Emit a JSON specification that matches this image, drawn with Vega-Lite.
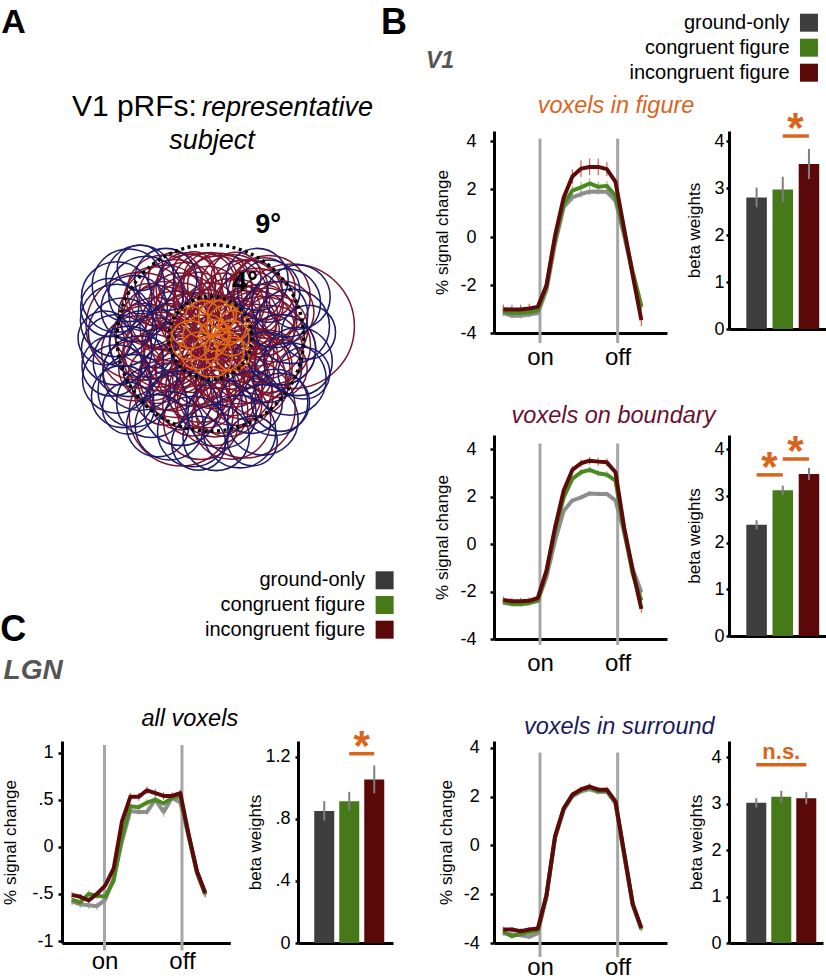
{
"$schema":"https://vega.github.io/schema/vega-lite/v6.json",
"background":"white",
"padding":{"left":0,"top":5,"right":0,"bottom":0},
"bounds":"flush",
"align":"each",
"columns":4,
"spacing":{"row":102,"column":62},
"config":{"font":"Liberation Sans","view":{"stroke":null},
"axis":{"domainColor":"#000000","domainWidth":3,"tickColor":"#000000","tickWidth":2.5,"tickSize":4,"labelColor":"#000000","titleColor":"#000000","labelFontSize":18,"titleFontSize":17,"titleFontWeight":"normal","grid":false,"labelOverlap":false,"labelFont":"Liberation Sans","titleFont":"Liberation Sans"}},
"datasets":{
"conds":[{"c":"g","name":"ground-only","k":1},{"c":"c","name":"congruent figure","k":2},{"c":"i","name":"incongruent figure","k":3}],
"beta":[
{"p":"fig","c":"g","b":2.8,"se":0.21},{"p":"fig","c":"c","b":2.97,"se":0.27},{"p":"fig","c":"i","b":3.51,"se":0.32},
{"p":"bnd","c":"g","b":2.38,"se":0.1},{"p":"bnd","c":"c","b":3.12,"se":0.1},{"p":"bnd","c":"i","b":3.47,"se":0.13},
{"p":"sur","c":"g","b":3.02,"se":0.1},{"p":"sur","c":"c","b":3.15,"se":0.13},{"p":"sur","c":"i","b":3.12,"se":0.13},
{"p":"lgn","c":"g","b":0.852,"se":0.063},{"p":"lgn","c":"c","b":0.915,"se":0.06},{"p":"lgn","c":"i","b":1.055,"se":0.09}],
"fig":[
{"c":"g","t":0,"v":-3.17,"e":0.12},{"c":"g","t":1,"v":-3.28,"e":0.12},{"c":"g","t":2,"v":-3.28,"e":0.12},{"c":"g","t":3,"v":-3.23,"e":0.12},{"c":"g","t":4,"v":-3.17,"e":0.1},{"c":"g","t":5,"v":-2.22,"e":0.08},{"c":"g","t":6,"v":-0.28,"e":0.08},{"c":"g","t":7,"v":1.24,"e":0.1},{"c":"g","t":8,"v":1.65,"e":0.15},{"c":"g","t":9,"v":1.79,"e":0.15},{"c":"g","t":10,"v":1.89,"e":0.15},{"c":"g","t":11,"v":1.9,"e":0.15},{"c":"g","t":12,"v":1.89,"e":0.15},{"c":"g","t":13,"v":1.51,"e":0.1},{"c":"g","t":14,"v":0.06,"e":0.08},{"c":"g","t":15,"v":-1.53,"e":0.08},{"c":"g","t":16,"v":-2.95,"e":0.1},
{"c":"c","t":0,"v":-3.12,"e":0.15},{"c":"c","t":1,"v":-3.17,"e":0.15},{"c":"c","t":2,"v":-3.17,"e":0.15},{"c":"c","t":3,"v":-3.14,"e":0.15},{"c":"c","t":4,"v":-3.05,"e":0.1},{"c":"c","t":5,"v":-2.08,"e":0.08},{"c":"c","t":6,"v":-0.08,"e":0.08},{"c":"c","t":7,"v":1.37,"e":0.12},{"c":"c","t":8,"v":1.93,"e":0.22},{"c":"c","t":9,"v":2.07,"e":0.22},{"c":"c","t":10,"v":2.23,"e":0.22},{"c":"c","t":11,"v":2.09,"e":0.22},{"c":"c","t":12,"v":2.13,"e":0.2},{"c":"c","t":13,"v":1.72,"e":0.12},{"c":"c","t":14,"v":0.2,"e":0.08},{"c":"c","t":15,"v":-1.46,"e":0.1},{"c":"c","t":16,"v":-2.88,"e":0.15},
{"c":"i","t":0,"v":-3.01,"e":0.2},{"c":"i","t":1,"v":-3.02,"e":0.2},{"c":"i","t":2,"v":-3.02,"e":0.2},{"c":"i","t":3,"v":-2.98,"e":0.2},{"c":"i","t":4,"v":-2.91,"e":0.12},{"c":"i","t":5,"v":-2.01,"e":0.08},{"c":"i","t":6,"v":0.06,"e":0.1},{"c":"i","t":7,"v":1.65,"e":0.15},{"c":"i","t":8,"v":2.52,"e":0.3},{"c":"i","t":9,"v":2.85,"e":0.35},{"c":"i","t":10,"v":2.92,"e":0.35},{"c":"i","t":11,"v":2.92,"e":0.35},{"c":"i","t":12,"v":2.83,"e":0.3},{"c":"i","t":13,"v":2.3,"e":0.15},{"c":"i","t":14,"v":0.34,"e":0.1},{"c":"i","t":15,"v":-1.6,"e":0.12},{"c":"i","t":16,"v":-3.46,"e":0.25}],
"bnd":[
{"c":"g","t":0,"v":-2.41,"e":0.08},{"c":"g","t":1,"v":-2.49,"e":0.08},{"c":"g","t":2,"v":-2.49,"e":0.08},{"c":"g","t":3,"v":-2.45,"e":0.08},{"c":"g","t":4,"v":-2.38,"e":0.06},{"c":"g","t":5,"v":-1.4,"e":0.06},{"c":"g","t":6,"v":0.15,"e":0.06},{"c":"g","t":7,"v":1.41,"e":0.08},{"c":"g","t":8,"v":1.84,"e":0.1},{"c":"g","t":9,"v":1.97,"e":0.1},{"c":"g","t":10,"v":2.14,"e":0.1},{"c":"g","t":11,"v":2.12,"e":0.1},{"c":"g","t":12,"v":2.12,"e":0.1},{"c":"g","t":13,"v":1.84,"e":0.08},{"c":"g","t":14,"v":0.5,"e":0.06},{"c":"g","t":15,"v":-1.05,"e":0.06},{"c":"g","t":16,"v":-2.03,"e":0.08},
{"c":"c","t":0,"v":-2.46,"e":0.1},{"c":"c","t":1,"v":-2.53,"e":0.1},{"c":"c","t":2,"v":-2.53,"e":0.1},{"c":"c","t":3,"v":-2.49,"e":0.1},{"c":"c","t":4,"v":-2.39,"e":0.08},{"c":"c","t":5,"v":-1.19,"e":0.06},{"c":"c","t":6,"v":0.57,"e":0.06},{"c":"c","t":7,"v":1.97,"e":0.1},{"c":"c","t":8,"v":2.75,"e":0.14},{"c":"c","t":9,"v":3.03,"e":0.14},{"c":"c","t":10,"v":3.13,"e":0.14},{"c":"c","t":11,"v":2.99,"e":0.14},{"c":"c","t":12,"v":2.93,"e":0.14},{"c":"c","t":13,"v":2.68,"e":0.1},{"c":"c","t":14,"v":0.57,"e":0.06},{"c":"c","t":15,"v":-1.26,"e":0.08},{"c":"c","t":16,"v":-2.38,"e":0.1},
{"c":"i","t":0,"v":-2.35,"e":0.14},{"c":"i","t":1,"v":-2.41,"e":0.14},{"c":"i","t":2,"v":-2.41,"e":0.14},{"c":"i","t":3,"v":-2.39,"e":0.14},{"c":"i","t":4,"v":-2.27,"e":0.1},{"c":"i","t":5,"v":-1.12,"e":0.08},{"c":"i","t":6,"v":0.71,"e":0.08},{"c":"i","t":7,"v":2.26,"e":0.12},{"c":"i","t":8,"v":3.13,"e":0.16},{"c":"i","t":9,"v":3.41,"e":0.16},{"c":"i","t":10,"v":3.52,"e":0.16},{"c":"i","t":11,"v":3.48,"e":0.16},{"c":"i","t":12,"v":3.45,"e":0.16},{"c":"i","t":13,"v":3.03,"e":0.12},{"c":"i","t":14,"v":0.71,"e":0.08},{"c":"i","t":15,"v":-1.12,"e":0.1},{"c":"i","t":16,"v":-2.73,"e":0.16}],
"sur":[
{"c":"g","t":0,"v":-3.6,"e":0.1},{"c":"g","t":1,"v":-3.65,"e":0.1},{"c":"g","t":2,"v":-3.68,"e":0.1},{"c":"g","t":3,"v":-3.75,"e":0.1},{"c":"g","t":4,"v":-3.6,"e":0.08},{"c":"g","t":5,"v":-2.1,"e":0.06},{"c":"g","t":6,"v":0.3,"e":0.06},{"c":"g","t":7,"v":1.45,"e":0.08},{"c":"g","t":8,"v":2.0,"e":0.1},{"c":"g","t":9,"v":2.2,"e":0.1},{"c":"g","t":10,"v":2.3,"e":0.1},{"c":"g","t":11,"v":2.18,"e":0.1},{"c":"g","t":12,"v":2.2,"e":0.1},{"c":"g","t":13,"v":1.72,"e":0.08},{"c":"g","t":14,"v":-0.4,"e":0.06},{"c":"g","t":15,"v":-2.46,"e":0.06},{"c":"g","t":16,"v":-3.45,"e":0.08},
{"c":"c","t":0,"v":-3.55,"e":0.12},{"c":"c","t":1,"v":-3.72,"e":0.12},{"c":"c","t":2,"v":-3.62,"e":0.12},{"c":"c","t":3,"v":-3.55,"e":0.12},{"c":"c","t":4,"v":-3.48,"e":0.08},{"c":"c","t":5,"v":-2.05,"e":0.06},{"c":"c","t":6,"v":0.35,"e":0.06},{"c":"c","t":7,"v":1.5,"e":0.08},{"c":"c","t":8,"v":2.05,"e":0.12},{"c":"c","t":9,"v":2.27,"e":0.12},{"c":"c","t":10,"v":2.36,"e":0.12},{"c":"c","t":11,"v":2.22,"e":0.12},{"c":"c","t":12,"v":2.24,"e":0.12},{"c":"c","t":13,"v":1.75,"e":0.08},{"c":"c","t":14,"v":-0.35,"e":0.06},{"c":"c","t":15,"v":-2.42,"e":0.06},{"c":"c","t":16,"v":-3.42,"e":0.1},
{"c":"i","t":0,"v":-3.45,"e":0.12},{"c":"i","t":1,"v":-3.45,"e":0.12},{"c":"i","t":2,"v":-3.52,"e":0.12},{"c":"i","t":3,"v":-3.45,"e":0.12},{"c":"i","t":4,"v":-3.41,"e":0.08},{"c":"i","t":5,"v":-2.05,"e":0.06},{"c":"i","t":6,"v":0.38,"e":0.06},{"c":"i","t":7,"v":1.52,"e":0.08},{"c":"i","t":8,"v":2.07,"e":0.12},{"c":"i","t":9,"v":2.29,"e":0.12},{"c":"i","t":10,"v":2.41,"e":0.12},{"c":"i","t":11,"v":2.28,"e":0.12},{"c":"i","t":12,"v":2.28,"e":0.12},{"c":"i","t":13,"v":1.8,"e":0.08},{"c":"i","t":14,"v":-0.3,"e":0.06},{"c":"i","t":15,"v":-2.4,"e":0.06},{"c":"i","t":16,"v":-3.38,"e":0.1}],
"lgn":[
{"c":"g","t":0,"v":-0.58,"e":0.04},{"c":"g","t":1,"v":-0.61,"e":0.04},{"c":"g","t":2,"v":-0.62,"e":0.04},{"c":"g","t":3,"v":-0.63,"e":0.04},{"c":"g","t":4,"v":-0.56,"e":0.03},{"c":"g","t":5,"v":-0.33,"e":0.03},{"c":"g","t":6,"v":0.06,"e":0.03},{"c":"g","t":7,"v":0.38,"e":0.03},{"c":"g","t":8,"v":0.37,"e":0.03},{"c":"g","t":9,"v":0.37,"e":0.03},{"c":"g","t":10,"v":0.5,"e":0.03},{"c":"g","t":11,"v":0.37,"e":0.05},{"c":"g","t":12,"v":0.52,"e":0.03},{"c":"g","t":13,"v":0.47,"e":0.03},{"c":"g","t":14,"v":0.11,"e":0.03},{"c":"g","t":15,"v":-0.28,"e":0.03},{"c":"g","t":16,"v":-0.51,"e":0.03},
{"c":"c","t":0,"v":-0.56,"e":0.04},{"c":"c","t":1,"v":-0.59,"e":0.04},{"c":"c","t":2,"v":-0.5,"e":0.04},{"c":"c","t":3,"v":-0.52,"e":0.04},{"c":"c","t":4,"v":-0.53,"e":0.03},{"c":"c","t":5,"v":-0.36,"e":0.03},{"c":"c","t":6,"v":0.1,"e":0.03},{"c":"c","t":7,"v":0.43,"e":0.03},{"c":"c","t":8,"v":0.42,"e":0.03},{"c":"c","t":9,"v":0.47,"e":0.04},{"c":"c","t":10,"v":0.5,"e":0.03},{"c":"c","t":11,"v":0.46,"e":0.03},{"c":"c","t":12,"v":0.52,"e":0.03},{"c":"c","t":13,"v":0.54,"e":0.03},{"c":"c","t":14,"v":0.12,"e":0.03},{"c":"c","t":15,"v":-0.27,"e":0.03},{"c":"c","t":16,"v":-0.5,"e":0.03},
{"c":"i","t":0,"v":-0.51,"e":0.03},{"c":"i","t":1,"v":-0.53,"e":0.03},{"c":"i","t":2,"v":-0.57,"e":0.03},{"c":"i","t":3,"v":-0.5,"e":0.03},{"c":"i","t":4,"v":-0.41,"e":0.03},{"c":"i","t":5,"v":-0.23,"e":0.03},{"c":"i","t":6,"v":0.27,"e":0.04},{"c":"i","t":7,"v":0.53,"e":0.04},{"c":"i","t":8,"v":0.53,"e":0.04},{"c":"i","t":9,"v":0.6,"e":0.04},{"c":"i","t":10,"v":0.57,"e":0.04},{"c":"i","t":11,"v":0.54,"e":0.04},{"c":"i","t":12,"v":0.54,"e":0.04},{"c":"i","t":13,"v":0.57,"e":0.04},{"c":"i","t":14,"v":0.13,"e":0.03},{"c":"i","t":15,"v":-0.26,"e":0.03},{"c":"i","t":16,"v":-0.49,"e":0.04}],
"prf":[
{"g":"b","x":4.5,"y":0.0,"r":4.0},{"g":"b","x":4.3,"y":1.5,"r":3.5},{"g":"b","x":3.9,"y":2.5,"r":3.9},{"g":"b","x":3.0,"y":3.5,"r":3.6},{"g":"b","x":2.0,"y":4.2,"r":3.3},{"g":"b","x":0.8,"y":4.5,"r":3.1},{"g":"b","x":-0.5,"y":4.6,"r":3.0},{"g":"b","x":-1.8,"y":4.3,"r":3.2},{"g":"b","x":-3.0,"y":3.6,"r":3.5},{"g":"b","x":-3.9,"y":2.6,"r":4.1},{"g":"b","x":-4.4,"y":1.3,"r":3.6},{"g":"b","x":-4.6,"y":0.0,"r":3.9},{"g":"b","x":-4.4,"y":-1.4,"r":3.5},{"g":"b","x":-3.9,"y":-2.6,"r":4.0},{"g":"b","x":-3.0,"y":-3.6,"r":3.6},{"g":"b","x":-1.8,"y":-4.3,"r":3.9},{"g":"b","x":-0.5,"y":-4.6,"r":3.5},{"g":"b","x":0.8,"y":-4.5,"r":4.1},{"g":"b","x":2.0,"y":-4.2,"r":3.7},{"g":"b","x":3.0,"y":-3.5,"r":3.9},{"g":"b","x":3.9,"y":-2.5,"r":3.5},{"g":"b","x":4.4,"y":-1.3,"r":4.0},
{"g":"b","x":5.5,"y":0.8,"r":3.2},{"g":"b","x":5.0,"y":-2.0,"r":3.0},{"g":"b","x":3.5,"y":4.0,"r":3.0},{"g":"b","x":-2.0,"y":4.8,"r":2.8},{"g":"b","x":-5.2,"y":2.0,"r":3.0},{"g":"b","x":-5.0,"y":-2.5,"r":3.2},{"g":"b","x":-2.5,"y":-5.2,"r":3.0},{"g":"b","x":1.5,"y":-5.5,"r":3.3},{"g":"b","x":0.0,"y":5.0,"r":2.6},{"g":"b","x":4.0,"y":-4.0,"r":3.0},
{"g":"b","x":7.0,"y":1.0,"r":6.0},{"g":"b","x":-2.5,"y":-6.5,"r":5.0},{"g":"b","x":-6.0,"y":1.0,"r":5.2},{"g":"b","x":3.0,"y":-6.0,"r":4.8},{"g":"b","x":1.0,"y":3.0,"r":4.6},{"g":"b","x":-1.0,"y":-1.0,"r":5.5},{"g":"b","x":5.0,"y":3.5,"r":4.0},{"g":"b","x":-4.0,"y":4.0,"r":3.5},
{"g":"b","x":2.0,"y":1.0,"r":2.8},{"g":"b","x":-2.0,"y":1.5,"r":2.6},{"g":"b","x":1.5,"y":-2.0,"r":2.7},{"g":"b","x":-1.5,"y":-2.0,"r":3.0},{"g":"b","x":0.0,"y":2.5,"r":2.5},{"g":"b","x":2.5,"y":-0.5,"r":3.0},{"g":"b","x":-2.5,"y":-0.5,"r":2.9},{"g":"b","x":0.5,"y":-2.8,"r":2.6},
{"g":"b","x":1.0,"y":0.5,"r":3.5},{"g":"b","x":-0.5,"y":0.8,"r":3.8},{"g":"b","x":0.3,"y":-0.6,"r":4.2},{"g":"b","x":3.2,"y":1.8,"r":2.9},{"g":"b","x":-3.2,"y":-1.6,"r":2.8},{"g":"b","x":2.6,"y":-2.8,"r":3.2},{"g":"b","x":-2.6,"y":2.9,"r":3.0},{"g":"b","x":6.0,"y":-1.0,"r":3.4},{"g":"b","x":-6.2,"y":-1.2,"r":3.5},{"g":"b","x":1.8,"y":-7.0,"r":3.8},{"g":"b","x":-0.8,"y":-7.2,"r":3.6},
{"g":"b","x":3.6,"y":0.6,"r":2.6},{"g":"b","x":3.3,"y":-1.2,"r":2.4},{"g":"b","x":2.4,"y":2.8,"r":2.5},{"g":"b","x":1.2,"y":3.6,"r":2.2},{"g":"b","x":-1.0,"y":3.5,"r":2.4},{"g":"b","x":-2.4,"y":2.4,"r":2.6},{"g":"b","x":-3.5,"y":0.9,"r":2.3},{"g":"b","x":-3.4,"y":-0.9,"r":2.6},{"g":"b","x":-2.6,"y":-2.6,"r":2.4},{"g":"b","x":-1.0,"y":-3.5,"r":2.5},{"g":"b","x":0.8,"y":-3.5,"r":2.3},{"g":"b","x":2.4,"y":-2.2,"r":2.6},{"g":"b","x":4.8,"y":1.8,"r":2.8},{"g":"b","x":-4.6,"y":-3.2,"r":2.7},{"g":"b","x":-1.5,"y":-5.8,"r":2.9},{"g":"b","x":2.2,"y":5.2,"r":2.4},{"g":"b","x":-5.6,"y":0.4,"r":2.9},{"g":"b","x":5.8,"y":-2.6,"r":2.8},{"g":"b","x":0.2,"y":-6.2,"r":3.4},{"g":"b","x":-3.0,"y":5.0,"r":2.6},
{"g":"b","x":2.8,"y":1.2,"r":3.2},{"g":"b","x":1.6,"y":2.4,"r":3.0},{"g":"b","x":-0.2,"y":3.2,"r":3.3},{"g":"b","x":-1.9,"y":2.6,"r":3.1},{"g":"b","x":-3.0,"y":1.0,"r":3.4},{"g":"b","x":-2.8,"y":-1.4,"r":3.2},{"g":"b","x":-1.7,"y":-2.9,"r":3.3},{"g":"b","x":0.2,"y":-3.3,"r":3.1},{"g":"b","x":1.9,"y":-2.9,"r":3.4},{"g":"b","x":3.1,"y":-1.6,"r":3.0},{"g":"b","x":4.0,"y":0.8,"r":3.6},{"g":"b","x":3.4,"y":2.9,"r":3.2},{"g":"b","x":0.6,"y":4.0,"r":3.4},{"g":"b","x":-2.2,"y":3.8,"r":3.0},{"g":"b","x":-4.0,"y":1.9,"r":3.3},{"g":"b","x":-4.2,"y":-1.0,"r":3.6},{"g":"b","x":-3.2,"y":-3.4,"r":3.2},{"g":"b","x":-0.8,"y":-4.2,"r":3.4},{"g":"b","x":1.8,"y":-4.0,"r":3.0},{"g":"b","x":3.8,"y":-2.6,"r":3.4},{"g":"b","x":5.2,"y":-0.6,"r":3.8},{"g":"b","x":-5.4,"y":-0.4,"r":3.6},{"g":"b","x":0.4,"y":-5.0,"r":3.9},{"g":"b","x":-1.4,"y":5.6,"r":2.0},{"g":"b","x":4.6,"y":4.2,"r":3.0},{"g":"b","x":-4.8,"y":3.6,"r":2.8},{"g":"b","x":6.2,"y":2.2,"r":3.0},{"g":"b","x":-6.6,"y":-2.8,"r":2.9},{"g":"b","x":2.8,"y":-5.0,"r":2.9},{"g":"b","x":-3.8,"y":-4.8,"r":3.0},
{"g":"s","x":-8.0,"y":3.5,"r":3.4},{"g":"s","x":-7.0,"y":4.5,"r":3.5},{"g":"s","x":-6.0,"y":5.0,"r":3.3},{"g":"s","x":-8.0,"y":1.5,"r":3.5},{"g":"s","x":-7.5,"y":0.5,"r":3.3},{"g":"s","x":-8.0,"y":-1.0,"r":3.4},{"g":"s","x":-7.0,"y":-2.0,"r":3.4},{"g":"s","x":-6.5,"y":2.5,"r":3.2},{"g":"s","x":-5.5,"y":3.8,"r":3.6},{"g":"s","x":-8.0,"y":-3.5,"r":3.3},{"g":"s","x":-6.5,"y":-4.5,"r":3.5},{"g":"s","x":-5.0,"y":-5.5,"r":3.4},{"g":"s","x":-7.5,"y":-5.0,"r":3.0},{"g":"s","x":-5.8,"y":-0.5,"r":3.2},{"g":"s","x":-6.0,"y":-3.0,"r":3.6},
{"g":"s","x":6.5,"y":3.0,"r":3.3},{"g":"s","x":7.0,"y":1.0,"r":3.6},{"g":"s","x":6.0,"y":-1.0,"r":3.4},{"g":"s","x":5.5,"y":2.0,"r":3.2},{"g":"s","x":7.5,"y":-2.0,"r":3.3},{"g":"s","x":5.0,"y":4.0,"r":3.0},{"g":"s","x":6.8,"y":-3.5,"r":3.5},{"g":"s","x":4.8,"y":-2.5,"r":3.4},{"g":"s","x":7.5,"y":3.5,"r":3.1},
{"g":"s","x":-3.5,"y":-7.5,"r":3.3},{"g":"s","x":-1.5,"y":-8.0,"r":3.4},{"g":"s","x":0.5,"y":-8.5,"r":3.2},{"g":"s","x":2.5,"y":-8.0,"r":3.5},{"g":"s","x":4.5,"y":-7.0,"r":3.4},{"g":"s","x":3.5,"y":-5.5,"r":3.0},{"g":"s","x":-2.5,"y":-6.0,"r":3.6},{"g":"s","x":1.0,"y":-6.5,"r":3.3},{"g":"s","x":5.5,"y":-5.5,"r":3.2},{"g":"s","x":-4.5,"y":-7.5,"r":3.0},{"g":"s","x":-3.8,"y":5.0,"r":3.0},{"g":"s","x":4.0,"y":5.0,"r":3.0},
{"g":"s","x":-9.0,"y":0.0,"r":2.6},{"g":"s","x":-8.6,"y":2.6,"r":2.8},{"g":"s","x":-8.4,"y":-2.4,"r":2.9},{"g":"s","x":-7.0,"y":-6.0,"r":2.5},{"g":"s","x":-6.0,"y":6.0,"r":2.2},{"g":"s","x":8.4,"y":0.5,"r":2.6},{"g":"s","x":8.0,"y":-3.0,"r":2.5},{"g":"s","x":6.0,"y":-5.5,"r":2.8},{"g":"s","x":-1.0,"y":-9.0,"r":2.6},{"g":"s","x":3.6,"y":-8.8,"r":2.4},
{"g":"f","x":-1.6,"y":0.9,"r":2.0},{"g":"f","x":-0.6,"y":1.6,"r":1.8},{"g":"f","x":0.5,"y":1.7,"r":1.7},{"g":"f","x":1.4,"y":1.1,"r":1.9},{"g":"f","x":1.8,"y":0.0,"r":1.7},{"g":"f","x":1.2,"y":-1.1,"r":1.9},{"g":"f","x":0.1,"y":-1.6,"r":2.0},{"g":"f","x":-1.0,"y":-1.1,"r":1.8},{"g":"f","x":-1.7,"y":-0.2,"r":1.9},{"g":"f","x":0.4,"y":0.2,"r":1.5},{"g":"f","x":1.9,"y":-1.4,"r":1.6},{"g":"f","x":-0.4,"y":0.1,"r":2.2},{"g":"f","x":1.0,"y":2.0,"r":1.4},{"g":"f","x":2.0,"y":1.0,"r":1.5}]
},
"resolve":{"scale":{"color":"independent","size":"independent","strokeWidth":"independent"}},
"concat":[
 {"width":174,"height":202,
  "resolve":{"scale":{"y":"independent","color":"independent"}},
  "layer":[
   {"layer":[
    {"data":{"name":"prf"},"mark":{"type":"point","shape":"circle","filled":false,"opacity":1},
     "encoding":{"x":{"field":"x","type":"quantitative","scale":{"domain":[-12.675,2.197],"nice":false,"zero":false},"axis":null},
      "y":{"field":"y","type":"quantitative","scale":{"domain":[0.427,17.692],"nice":false,"zero":false},"axis":null},
      "size":{"field":"r","type":"quantitative","scale":{"type":"pow","exponent":2,"domain":[0,10],"range":[0,43005]},"legend":null},
      "strokeWidth":{"field":"g","type":"nominal","scale":{"domain":["b","s","f"],"range":[1.5,1.6,2.4]},"legend":null},
      "color":{"field":"g","type":"nominal","scale":{"domain":["b","s","f"],"range":["#7a1530","#1e1b6b","#e06a12"]},"legend":null}}},
    {"data":{"values":[{"r":9},{"r":4}]},"mark":{"type":"point","shape":"circle","filled":false,"color":"#000000","strokeWidth":3.5,"strokeDash":[3,3.5],"opacity":1},
     "encoding":{"x":{"datum":0,"type":"quantitative","axis":null},"y":{"datum":0,"type":"quantitative","axis":null},
      "size":{"field":"r","type":"quantitative","scale":{"type":"pow","exponent":2,"domain":[0,10],"range":[0,43005]},"legend":null}}},
    {"data":{"values":[{}]},"mark":{"type":"text","text":"9°","fontSize":27,"fontWeight":"bold","align":"left","baseline":"alphabetic"},"encoding":{"x":{"datum":3.85,"type":"quantitative","axis":null},"y":{"datum":8.97,"type":"quantitative","axis":null}}},
    {"data":{"values":[{}]},"mark":{"type":"text","text":"4°","fontSize":27,"fontWeight":"bold","align":"left","baseline":"alphabetic"},"encoding":{"x":{"datum":1.85,"type":"quantitative","axis":null},"y":{"datum":4.02,"type":"quantitative","axis":null}}},
    {"data":{"values":[{}]},"mark":{"type":"text","text":"A","fontSize":34,"fontWeight":"bold","align":"left","baseline":"alphabetic"},"encoding":{"x":{"datum":-17.86,"type":"quantitative","axis":null},"y":{"datum":26.09,"type":"quantitative","axis":null}}},
    {"data":{"values":[{}]},"mark":{"type":"text","text":"V1 pRFs:","fontSize":30,"align":"right","baseline":"alphabetic"},"encoding":{"x":{"datum":-1.14,"type":"quantitative","axis":null},"y":{"datum":18.97,"type":"quantitative","axis":null}}},
    {"data":{"values":[{}]},"mark":{"type":"text","text":"representative","fontSize":27,"fontStyle":"italic","align":"left","baseline":"alphabetic"},"encoding":{"x":{"datum":-0.71,"type":"quantitative","axis":null},"y":{"datum":18.97,"type":"quantitative","axis":null}}},
    {"data":{"values":[{}]},"mark":{"type":"text","text":"subject","fontSize":27,"fontStyle":"italic","align":"center","baseline":"alphabetic"},"encoding":{"x":{"datum":0.15,"type":"quantitative","axis":null},"y":{"datum":16.15,"type":"quantitative","axis":null}}},
    {"data":{"values":[{}]},"mark":{"type":"text","text":"C","fontSize":36,"fontWeight":"bold","align":"left","baseline":"alphabetic"},"encoding":{"x":{"datum":-17.95,"type":"quantitative","axis":null},"y":{"datum":-25.9,"type":"quantitative","axis":null}}},
    {"data":{"values":[{}]},"mark":{"type":"text","text":"LGN","fontSize":28,"fontWeight":"bold","fontStyle":"italic","color":"#555555","align":"left","baseline":"alphabetic"},"encoding":{"x":{"datum":-17.67,"type":"quantitative","axis":null},"y":{"datum":-29.15,"type":"quantitative","axis":null}}}
   ]},
   {"data":{"name":"conds"},"layer":[
    {"mark":{"type":"square","size":324,"opacity":1},
     "encoding":{"x":{"datum":14.9,"type":"quantitative","axis":null},"y":{"field":"k","type":"quantitative","scale":{"domain":[-17.19,-9.012],"reverse":true,"nice":false,"zero":false},"axis":null},
      "color":{"field":"c","type":"nominal","scale":{"domain":["g","c","i"],"range":["#3a3a3a","#467a18","#5a0808"]},"legend":null}}},
    {"mark":{"type":"text","align":"right","baseline":"middle","fontSize":20,"dx":-19.5,"color":"#000000"},
     "encoding":{"x":{"datum":14.9,"type":"quantitative","axis":null},"y":{"field":"k","type":"quantitative","axis":null},"text":{"field":"name"}}}
   ]}
  ]},
 {"width":133.3,"height":10,"data":{"values":[]},"mark":{"type":"point","opacity":0}},
 {"width":173,"height":202,
  "resolve":{"scale":{"color":"independent"}},
  "layer":[
   {"data":{"values":[{"t":4.25},{"t":13.25}]},"mark":{"type":"rule","color":"#a6a6a6","strokeWidth":3},
    "encoding":{"x":{"field":"t","type":"quantitative","title":null,"scale":{"domain":[-1.08,18.97],"nice":false,"zero":false},"axis":{"values":[4.25,13.25],"labelExpr":"datum.value < 8 ? 'on' : 'off'","ticks":false,"tickSize":0,"labelFontSize":24,"labelPadding":12,"title":null}},
     "y":{"datum":4.1,"type":"quantitative","title":"% signal change","scale":{"domain":[-4,4.417],"nice":false,"zero":false},"axis":{"values":[-4,-3,-2,-1,0,1,2,3,4],"labelOverlap":false,"labelExpr":"(datum.value < 0 ? '-' : '') + (datum.value != 0 && abs(datum.value) < 1 ? replace(format(abs(datum.value), '.1f'), '0.', '.') : format(abs(datum.value), '~g'))","title":"% signal change","titlePadding":8,"labelPadding":14}},
     "y2":{"datum":-4.42}}},
   {"data":{"name":"fig"},"mark":{"type":"errorbar","thickness":1.2},
    "encoding":{"x":{"field":"t","type":"quantitative","title":null},"y":{"field":"v","type":"quantitative","title":"% signal change","axis":{"values":[-4,-3,-2,-1,0,1,2,3,4],"labelOverlap":false,"labelExpr":"(datum.value < 0 ? '-' : '') + (datum.value != 0 && abs(datum.value) < 1 ? replace(format(abs(datum.value), '.1f'), '0.', '.') : format(abs(datum.value), '~g'))","title":"% signal change","titlePadding":8,"labelPadding":14}},"yError":{"field":"e"},
     "color":{"field":"c","type":"nominal","scale":{"domain":["g","c","i"],"range":["#b0b0b0","#9cc46e","#de5a5a"]},"legend":null}}},
   {"data":{"name":"fig"},"mark":{"type":"line","strokeWidth":4,"strokeJoin":"round"},
    "encoding":{"x":{"field":"t","type":"quantitative","title":null},"y":{"field":"v","type":"quantitative","title":"% signal change","axis":{"values":[-4,-3,-2,-1,0,1,2,3,4],"labelOverlap":false,"labelExpr":"(datum.value < 0 ? '-' : '') + (datum.value != 0 && abs(datum.value) < 1 ? replace(format(abs(datum.value), '.1f'), '0.', '.') : format(abs(datum.value), '~g'))","title":"% signal change","titlePadding":8,"labelPadding":14}},
     "color":{"field":"c","type":"nominal","scale":{"domain":["g","c","i"],"range":["#8e8e8e","#4b8a22","#5c0a0a"]},"legend":null}}},
   {"data":{"values":[{}]},"mark":{"type":"text","text":"voxels in figure","fontSize":23.5,"fontStyle":"italic","color":"#d9651c","align":"center","baseline":"alphabetic"},"encoding":{"x":{"datum":13.06,"type":"quantitative"},"y":{"datum":5.18,"type":"quantitative","title":"% signal change"}}},
   {"data":{"values":[{}]},"mark":{"type":"text","text":"B","fontSize":36,"fontWeight":"bold","align":"left","baseline":"alphabetic"},"encoding":{"x":{"datum":-14.17,"type":"quantitative"},"y":{"datum":8.446,"type":"quantitative","title":"% signal change"}}},
   {"data":{"values":[{}]},"mark":{"type":"text","text":"V1","fontSize":23,"fontWeight":"bold","fontStyle":"italic","color":"#555555","align":"left","baseline":"alphabetic"},"encoding":{"x":{"datum":-8.96,"type":"quantitative"},"y":{"datum":7.054,"type":"quantitative","title":"% signal change"}}}
  ]},
 {"width":97,"height":198,
  "resolve":{"scale":{"y":"independent"}},
  "layer":[
   {"layer":[
    {"data":{"name":"beta"},"transform":[{"filter":"datum.p == 'fig'"}],"mark":{"type":"bar"},
     "encoding":{"x":{"field":"c","type":"nominal","title":null,"scale":{"domain":["g","c","i"],"paddingInner":0.216,"paddingOuter":0.46,"align":0.719},"axis":{"title":null,"labels":false,"ticks":false}},
      "y":{"field":"b","type":"quantitative","title":"beta weights","scale":{"domain":[0,4.213],"nice":false},"axis":{"values":[0,0.5,1,1.5,2,2.5,3,3.5,4],"labelOverlap":false,"labelExpr":"(datum.value < 0 ? '-' : '') + (datum.value != 0 && abs(datum.value) < 1 ? replace(format(abs(datum.value), '.1f'), '0.', '.') : format(abs(datum.value), '~g'))","title":"beta weights","titlePadding":10,"labelPadding":2,"tickSize":3}},
      "color":{"field":"c","type":"nominal","scale":{"domain":["g","c","i"],"range":["#3e3e3e","#467a18","#5a0808"]},"legend":null}}},
    {"data":{"name":"beta"},"transform":[{"filter":"datum.p == 'fig'"}],"mark":{"type":"errorbar","color":"#7f7f7f","thickness":2},
     "encoding":{"x":{"field":"c","type":"nominal","title":null},"y":{"field":"b","type":"quantitative","title":"beta weights","axis":{"values":[0,0.5,1,1.5,2,2.5,3,3.5,4],"labelOverlap":false,"labelExpr":"(datum.value < 0 ? '-' : '') + (datum.value != 0 && abs(datum.value) < 1 ? replace(format(abs(datum.value), '.1f'), '0.', '.') : format(abs(datum.value), '~g'))","title":"beta weights","titlePadding":10,"labelPadding":2,"tickSize":3}},"yError":{"field":"se"}}},
    {"data":{"values":[{}]},"mark":{"type":"rule","color":"#d9651c","strokeWidth":3.5},"encoding":{"x":{"datum":"c","type":"nominal"},"x2":{"datum":"i"},"y":{"datum":4.106,"type":"quantitative","title":"beta weights"}}},
    {"data":{"values":[{}]},"mark":{"type":"text","text":"*","fontSize":42,"fontWeight":"bold","color":"#d9651c","align":"center","baseline":"alphabetic","dx":12.75,"dy":6},"encoding":{"x":{"datum":"c","type":"nominal"},"y":{"datum":4.106,"type":"quantitative","title":"beta weights"}}}
   ]},
   {"data":{"name":"conds"},"layer":[
    {"mark":{"type":"square","size":324,"opacity":1},
     "encoding":{"x":{"datum":"i","type":"nominal"},"y":{"field":"k","type":"quantitative","scale":{"domain":[5.332,13.252],"reverse":true,"nice":false,"zero":false},"axis":null},
      "color":{"field":"c","type":"nominal","scale":{"domain":["g","c","i"],"range":["#3e3e3e","#467a18","#5a0808"]},"legend":null}}},
    {"mark":{"type":"text","align":"right","baseline":"middle","fontSize":20,"dx":-19.4,"color":"#000000"},
     "encoding":{"x":{"datum":"i","type":"nominal"},"y":{"field":"k","type":"quantitative","axis":null},"text":{"field":"name"}}}
   ]}
  ]},
 {"width":174,"height":10,"data":{"values":[]},"mark":{"type":"point","opacity":0}},
 {"width":133.3,"height":10,"data":{"values":[]},"mark":{"type":"point","opacity":0}},
 {"width":173,"height":204,
  "resolve":{"scale":{"color":"independent"}},
  "layer":[
   {"data":{"values":[{"t":4.25},{"t":13.25}]},"mark":{"type":"rule","color":"#a6a6a6","strokeWidth":3},
    "encoding":{"x":{"field":"t","type":"quantitative","title":null,"scale":{"domain":[-1.08,18.97],"nice":false,"zero":false},"axis":{"values":[4.25,13.25],"labelExpr":"datum.value < 8 ? 'on' : 'off'","ticks":false,"tickSize":0,"labelFontSize":24,"labelPadding":12,"title":null}},
     "y":{"datum":4.24,"type":"quantitative","title":"% signal change","scale":{"domain":[-4,4.603],"nice":false,"zero":false},"axis":{"values":[-4,-3,-2,-1,0,1,2,3,4],"labelOverlap":false,"labelExpr":"(datum.value < 0 ? '-' : '') + (datum.value != 0 && abs(datum.value) < 1 ? replace(format(abs(datum.value), '.1f'), '0.', '.') : format(abs(datum.value), '~g'))","title":"% signal change","titlePadding":8,"labelPadding":14}},
     "y2":{"datum":-4.25}}},
   {"data":{"name":"bnd"},"mark":{"type":"errorbar","thickness":1.2},
    "encoding":{"x":{"field":"t","type":"quantitative","title":null},"y":{"field":"v","type":"quantitative","title":"% signal change","axis":{"values":[-4,-3,-2,-1,0,1,2,3,4],"labelOverlap":false,"labelExpr":"(datum.value < 0 ? '-' : '') + (datum.value != 0 && abs(datum.value) < 1 ? replace(format(abs(datum.value), '.1f'), '0.', '.') : format(abs(datum.value), '~g'))","title":"% signal change","titlePadding":8,"labelPadding":14}},"yError":{"field":"e"},
     "color":{"field":"c","type":"nominal","scale":{"domain":["g","c","i"],"range":["#b0b0b0","#9cc46e","#de5a5a"]},"legend":null}}},
   {"data":{"name":"bnd"},"mark":{"type":"line","strokeWidth":4,"strokeJoin":"round"},
    "encoding":{"x":{"field":"t","type":"quantitative","title":null},"y":{"field":"v","type":"quantitative","title":"% signal change","axis":{"values":[-4,-3,-2,-1,0,1,2,3,4],"labelOverlap":false,"labelExpr":"(datum.value < 0 ? '-' : '') + (datum.value != 0 && abs(datum.value) < 1 ? replace(format(abs(datum.value), '.1f'), '0.', '.') : format(abs(datum.value), '~g'))","title":"% signal change","titlePadding":8,"labelPadding":14}},
     "color":{"field":"c","type":"nominal","scale":{"domain":["g","c","i"],"range":["#8e8e8e","#4b8a22","#5c0a0a"]},"legend":null}}},
   {"data":{"values":[{}]},"mark":{"type":"text","text":"voxels on boundary","fontSize":23.5,"fontStyle":"italic","color":"#6b1030","align":"center","baseline":"alphabetic"},"encoding":{"x":{"datum":12.77,"type":"quantitative"},"y":{"datum":5.122,"type":"quantitative","title":"% signal change"}}}
  ]},
 {"width":97,"height":201,
  "layer":[
   {"data":{"name":"beta"},"transform":[{"filter":"datum.p == 'bnd'"}],"mark":{"type":"bar"},
    "encoding":{"x":{"field":"c","type":"nominal","title":null,"scale":{"domain":["g","c","i"],"paddingInner":0.216,"paddingOuter":0.46,"align":0.719},"axis":{"title":null,"labels":false,"ticks":false}},
     "y":{"field":"b","type":"quantitative","title":"beta weights","scale":{"domain":[0,4.304],"nice":false},"axis":{"values":[0,0.5,1,1.5,2,2.5,3,3.5,4],"labelOverlap":false,"labelExpr":"(datum.value < 0 ? '-' : '') + (datum.value != 0 && abs(datum.value) < 1 ? replace(format(abs(datum.value), '.1f'), '0.', '.') : format(abs(datum.value), '~g'))","title":"beta weights","titlePadding":10,"labelPadding":2,"tickSize":3}},
     "color":{"field":"c","type":"nominal","scale":{"domain":["g","c","i"],"range":["#3e3e3e","#467a18","#5a0808"]},"legend":null}}},
   {"data":{"name":"beta"},"transform":[{"filter":"datum.p == 'bnd'"}],"mark":{"type":"errorbar","color":"#7f7f7f","thickness":2},
    "encoding":{"x":{"field":"c","type":"nominal","title":null},"y":{"field":"b","type":"quantitative","title":"beta weights","axis":{"values":[0,0.5,1,1.5,2,2.5,3,3.5,4],"labelOverlap":false,"labelExpr":"(datum.value < 0 ? '-' : '') + (datum.value != 0 && abs(datum.value) < 1 ? replace(format(abs(datum.value), '.1f'), '0.', '.') : format(abs(datum.value), '~g'))","title":"beta weights","titlePadding":10,"labelPadding":2,"tickSize":3}},"yError":{"field":"se"}}},
   {"data":{"values":[{}]},"mark":{"type":"rule","color":"#d9651c","strokeWidth":3.5},"encoding":{"x":{"datum":"g","type":"nominal"},"x2":{"datum":"c"},"y":{"datum":3.45,"type":"quantitative","title":"beta weights"}}},
   {"data":{"values":[{}]},"mark":{"type":"text","text":"*","fontSize":42,"fontWeight":"bold","color":"#d9651c","align":"center","baseline":"alphabetic","dx":12.75,"dy":6},"encoding":{"x":{"datum":"g","type":"nominal"},"y":{"datum":3.45,"type":"quantitative","title":"beta weights"}}},
   {"data":{"values":[{}]},"mark":{"type":"rule","color":"#d9651c","strokeWidth":3.5},"encoding":{"x":{"datum":"c","type":"nominal"},"x2":{"datum":"i"},"y":{"datum":3.79,"type":"quantitative","title":"beta weights"}}},
   {"data":{"values":[{}]},"mark":{"type":"text","text":"*","fontSize":42,"fontWeight":"bold","color":"#d9651c","align":"center","baseline":"alphabetic","dx":12.75,"dy":6},"encoding":{"x":{"datum":"c","type":"nominal"},"y":{"datum":3.79,"type":"quantitative","title":"beta weights"}}}
  ]},
 {"width":168.3,"height":202,
  "resolve":{"scale":{"color":"independent"}},
  "layer":[
   {"data":{"values":[{"t":3.9},{"t":13.2}]},"mark":{"type":"rule","color":"#a6a6a6","strokeWidth":3},
    "encoding":{"x":{"field":"t","type":"quantitative","title":null,"scale":{"domain":[-1.2,19.0],"nice":false,"zero":false},"axis":{"values":[3.9,13.2],"labelExpr":"datum.value < 8 ? 'on' : 'off'","ticks":false,"tickSize":0,"labelFontSize":24,"labelPadding":6,"title":null}},
     "y":{"datum":1.08,"type":"quantitative","title":"% signal change","scale":{"domain":[-1.021,1.123],"nice":false,"zero":false},"axis":{"values":[-1,-0.5,0,0.5,1],"labelOverlap":false,"labelExpr":"(datum.value < 0 ? '-' : '') + (datum.value != 0 && abs(datum.value) < 1 ? replace(format(abs(datum.value), '.1f'), '0.', '.') : format(abs(datum.value), '~g'))","title":"% signal change","titlePadding":12,"labelPadding":5}},
     "y2":{"datum":-1.1}}},
   {"data":{"name":"lgn"},"mark":{"type":"errorbar","thickness":1.2},
    "encoding":{"x":{"field":"t","type":"quantitative","title":null},"y":{"field":"v","type":"quantitative","title":"% signal change","axis":{"values":[-1,-0.5,0,0.5,1],"labelOverlap":false,"labelExpr":"(datum.value < 0 ? '-' : '') + (datum.value != 0 && abs(datum.value) < 1 ? replace(format(abs(datum.value), '.1f'), '0.', '.') : format(abs(datum.value), '~g'))","title":"% signal change","titlePadding":12,"labelPadding":5}},"yError":{"field":"e"},
     "color":{"field":"c","type":"nominal","scale":{"domain":["g","c","i"],"range":["#b0b0b0","#9cc46e","#de5a5a"]},"legend":null}}},
   {"data":{"name":"lgn"},"mark":{"type":"line","strokeWidth":4,"strokeJoin":"round"},
    "encoding":{"x":{"field":"t","type":"quantitative","title":null},"y":{"field":"v","type":"quantitative","title":"% signal change","axis":{"values":[-1,-0.5,0,0.5,1],"labelOverlap":false,"labelExpr":"(datum.value < 0 ? '-' : '') + (datum.value != 0 && abs(datum.value) < 1 ? replace(format(abs(datum.value), '.1f'), '0.', '.') : format(abs(datum.value), '~g'))","title":"% signal change","titlePadding":12,"labelPadding":5}},
     "color":{"field":"c","type":"nominal","scale":{"domain":["g","c","i"],"range":["#8e8e8e","#4b8a22","#5c0a0a"]},"legend":null}}},
   {"data":{"values":[{}]},"mark":{"type":"text","text":"all voxels","fontSize":23.5,"fontStyle":"italic","color":"#000000","align":"center","baseline":"alphabetic"},"encoding":{"x":{"datum":14.14,"type":"quantitative"},"y":{"datum":1.282,"type":"quantitative","title":"% signal change"}}}
  ]},
 {"width":95,"height":202,
  "layer":[
   {"data":{"name":"beta"},"transform":[{"filter":"datum.p == 'lgn'"}],"mark":{"type":"bar"},
    "encoding":{"x":{"field":"c","type":"nominal","title":null,"scale":{"domain":["g","c","i"],"paddingInner":0.2,"paddingOuter":0.5,"align":0.65},"axis":{"title":null,"labels":false,"ticks":false}},
     "y":{"field":"b","type":"quantitative","title":"beta weights","scale":{"domain":[0,1.303],"nice":false},"axis":{"values":[0,0.2,0.4,0.6,0.8,1,1.2],"labelOverlap":false,"labelExpr":"(datum.value < 0 ? '-' : '') + (datum.value != 0 && abs(datum.value) < 1 ? replace(format(abs(datum.value), '.1f'), '0.', '.') : format(abs(datum.value), '~g'))","title":"beta weights","titlePadding":0,"labelPadding":5,"tickSize":3}},
     "color":{"field":"c","type":"nominal","scale":{"domain":["g","c","i"],"range":["#3e3e3e","#467a18","#5a0808"]},"legend":null}}},
   {"data":{"name":"beta"},"transform":[{"filter":"datum.p == 'lgn'"}],"mark":{"type":"errorbar","color":"#7f7f7f","thickness":2},
    "encoding":{"x":{"field":"c","type":"nominal","title":null},"y":{"field":"b","type":"quantitative","title":"beta weights","axis":{"values":[0,0.2,0.4,0.6,0.8,1,1.2],"labelOverlap":false,"labelExpr":"(datum.value < 0 ? '-' : '') + (datum.value != 0 && abs(datum.value) < 1 ? replace(format(abs(datum.value), '.1f'), '0.', '.') : format(abs(datum.value), '~g'))","title":"beta weights","titlePadding":0,"labelPadding":5,"tickSize":3}},"yError":{"field":"se"}}},
   {"data":{"values":[{}]},"mark":{"type":"rule","color":"#d9651c","strokeWidth":3.5},"encoding":{"x":{"datum":"c","type":"nominal"},"x2":{"datum":"i"},"y":{"datum":1.221,"type":"quantitative","title":"beta weights"}}},
   {"data":{"values":[{}]},"mark":{"type":"text","text":"*","fontSize":42,"fontWeight":"bold","color":"#d9651c","align":"center","baseline":"alphabetic","dx":12.5,"dy":6},"encoding":{"x":{"datum":"c","type":"nominal"},"y":{"datum":1.221,"type":"quantitative","title":"beta weights"}}}
  ]},
 {"width":173,"height":202,
  "resolve":{"scale":{"color":"independent"}},
  "layer":[
   {"data":{"values":[{"t":4.25},{"t":13.25}]},"mark":{"type":"rule","color":"#a6a6a6","strokeWidth":3},
    "encoding":{"x":{"field":"t","type":"quantitative","title":null,"scale":{"domain":[-1.08,18.97],"nice":false,"zero":false},"axis":{"values":[4.25,13.25],"labelExpr":"datum.value < 8 ? 'on' : 'off'","ticks":false,"tickSize":0,"labelFontSize":24,"labelPadding":12,"title":null}},
     "y":{"datum":3.8,"type":"quantitative","title":"% signal change","scale":{"domain":[-4,4.274],"nice":false,"zero":false},"axis":{"values":[-4,-3,-2,-1,0,1,2,3,4],"labelOverlap":false,"labelExpr":"(datum.value < 0 ? '-' : '') + (datum.value != 0 && abs(datum.value) < 1 ? replace(format(abs(datum.value), '.1f'), '0.', '.') : format(abs(datum.value), '~g'))","title":"% signal change","titlePadding":8,"labelPadding":10.7}},
     "y2":{"datum":-4.57}}},
   {"data":{"name":"sur"},"mark":{"type":"errorbar","thickness":1.2},
    "encoding":{"x":{"field":"t","type":"quantitative","title":null},"y":{"field":"v","type":"quantitative","title":"% signal change","axis":{"values":[-4,-3,-2,-1,0,1,2,3,4],"labelOverlap":false,"labelExpr":"(datum.value < 0 ? '-' : '') + (datum.value != 0 && abs(datum.value) < 1 ? replace(format(abs(datum.value), '.1f'), '0.', '.') : format(abs(datum.value), '~g'))","title":"% signal change","titlePadding":8,"labelPadding":10.7}},"yError":{"field":"e"},
     "color":{"field":"c","type":"nominal","scale":{"domain":["g","c","i"],"range":["#b0b0b0","#9cc46e","#de5a5a"]},"legend":null}}},
   {"data":{"name":"sur"},"mark":{"type":"line","strokeWidth":4,"strokeJoin":"round"},
    "encoding":{"x":{"field":"t","type":"quantitative","title":null},"y":{"field":"v","type":"quantitative","title":"% signal change","axis":{"values":[-4,-3,-2,-1,0,1,2,3,4],"labelOverlap":false,"labelExpr":"(datum.value < 0 ? '-' : '') + (datum.value != 0 && abs(datum.value) < 1 ? replace(format(abs(datum.value), '.1f'), '0.', '.') : format(abs(datum.value), '~g'))","title":"% signal change","titlePadding":8,"labelPadding":10.7}},
     "color":{"field":"c","type":"nominal","scale":{"domain":["g","c","i"],"range":["#8e8e8e","#4b8a22","#5c0a0a"]},"legend":null}}},
   {"data":{"values":[{}]},"mark":{"type":"text","text":"voxels in surround","fontSize":23.5,"fontStyle":"italic","color":"#1c1a5e","align":"center","baseline":"alphabetic"},"encoding":{"x":{"datum":13.44,"type":"quantitative"},"y":{"datum":4.548,"type":"quantitative","title":"% signal change"}}}
  ]},
 {"width":94,"height":202,
  "layer":[
   {"data":{"name":"beta"},"transform":[{"filter":"datum.p == 'sur'"}],"mark":{"type":"bar"},
    "encoding":{"x":{"field":"c","type":"nominal","title":null,"scale":{"domain":["g","c","i"],"paddingInner":0.2,"paddingOuter":0.48,"align":0.72},"axis":{"title":null,"labels":false,"ticks":false}},
     "y":{"field":"b","type":"quantitative","title":"beta weights","scale":{"domain":[0,4.353],"nice":false},"axis":{"values":[0,0.5,1,1.5,2,2.5,3,3.5,4],"labelOverlap":false,"labelExpr":"(datum.value < 0 ? '-' : '') + (datum.value != 0 && abs(datum.value) < 1 ? replace(format(abs(datum.value), '.1f'), '0.', '.') : format(abs(datum.value), '~g'))","title":"beta weights","titlePadding":5,"labelPadding":5,"tickSize":3}},
     "color":{"field":"c","type":"nominal","scale":{"domain":["g","c","i"],"range":["#3e3e3e","#467a18","#5a0808"]},"legend":null}}},
   {"data":{"name":"beta"},"transform":[{"filter":"datum.p == 'sur'"}],"mark":{"type":"errorbar","color":"#7f7f7f","thickness":2},
    "encoding":{"x":{"field":"c","type":"nominal","title":null},"y":{"field":"b","type":"quantitative","title":"beta weights","axis":{"values":[0,0.5,1,1.5,2,2.5,3,3.5,4],"labelOverlap":false,"labelExpr":"(datum.value < 0 ? '-' : '') + (datum.value != 0 && abs(datum.value) < 1 ? replace(format(abs(datum.value), '.1f'), '0.', '.') : format(abs(datum.value), '~g'))","title":"beta weights","titlePadding":5,"labelPadding":5,"tickSize":3}},"yError":{"field":"se"}}},
   {"data":{"values":[{}]},"mark":{"type":"rule","color":"#d9651c","strokeWidth":3.5},"encoding":{"x":{"datum":"g","type":"nominal"},"x2":{"datum":"i"},"y":{"datum":3.84,"type":"quantitative","title":"beta weights"}}},
   {"data":{"values":[{}]},"mark":{"type":"text","text":"n.s.","fontSize":22,"fontWeight":"bold","color":"#d9651c","align":"center","baseline":"alphabetic","dy":-5.7},"encoding":{"x":{"datum":"c","type":"nominal"},"y":{"datum":3.84,"type":"quantitative","title":"beta weights"}}}
  ]}
]
}
